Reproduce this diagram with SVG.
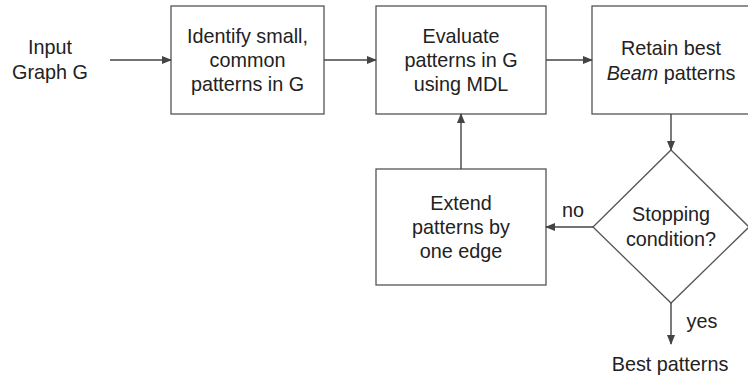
<svg xmlns="http://www.w3.org/2000/svg" width="748" height="377" viewBox="0 0 748 377">
<defs>
<style>
.box{fill:#fff;stroke:#555;stroke-width:1.3}
.ln{fill:none;stroke:#444;stroke-width:1.4}
text{font-family:"Liberation Sans",Arial,sans-serif;font-size:19.8px;fill:#222;text-anchor:middle}
</style>
<marker id="ah" markerWidth="10" markerHeight="8" refX="9" refY="4" orient="auto" markerUnits="userSpaceOnUse">
<path d="M0,0 L10,4 L0,8 Z" fill="#444"/>
</marker>
</defs>
<rect width="748" height="377" fill="#fff"/>
<g id="input">
<text x="50" y="54">Input</text>
<text x="50" y="79">Graph G</text>
</g>
<g id="identify">
<rect class="box" x="171" y="6" width="153" height="108"/>
<text x="247.5" y="43">Identify small,</text>
<text x="247.5" y="67">common</text>
<text x="247.5" y="91">patterns in G</text>
</g>
<g id="evaluate">
<rect class="box" x="376" y="6" width="170" height="108"/>
<text x="461" y="43">Evaluate</text>
<text x="461" y="67">patterns in G</text>
<text x="461" y="91">using MDL</text>
</g>
<g id="retain">
<rect class="box" x="592" y="6" width="158" height="108"/>
<text x="671" y="55">Retain best</text>
<text x="671" y="80"><tspan font-style="italic">Beam</tspan> patterns</text>
</g>
<g id="stopping">
<polygon class="box" points="671,150 749,227 671,303 593,227"/>
<text x="671" y="221">Stopping</text>
<text x="671" y="246">condition?</text>
</g>
<g id="extend">
<rect class="box" x="376" y="169" width="170" height="116"/>
<text x="461" y="210">Extend</text>
<text x="461" y="234">patterns by</text>
<text x="461" y="258">one edge</text>
</g>
<g id="best">
<text x="670" y="371">Best patterns</text>
</g>
<g id="connectors">
<line class="ln" x1="110" y1="60" x2="171" y2="60" marker-end="url(#ah)"/>
<line class="ln" x1="324" y1="60" x2="376" y2="60" marker-end="url(#ah)"/>
<line class="ln" x1="546" y1="60" x2="592" y2="60" marker-end="url(#ah)"/>
<line class="ln" x1="671" y1="114" x2="671" y2="150" marker-end="url(#ah)"/>
<line class="ln" x1="593" y1="227" x2="546" y2="227" marker-end="url(#ah)"/>
<line class="ln" x1="461" y1="169" x2="461" y2="114" marker-end="url(#ah)"/>
<line class="ln" x1="671" y1="303" x2="671" y2="344" marker-end="url(#ah)"/>
<text x="573" y="217">no</text>
<text x="702" y="328">yes</text>
</g>
</svg>
